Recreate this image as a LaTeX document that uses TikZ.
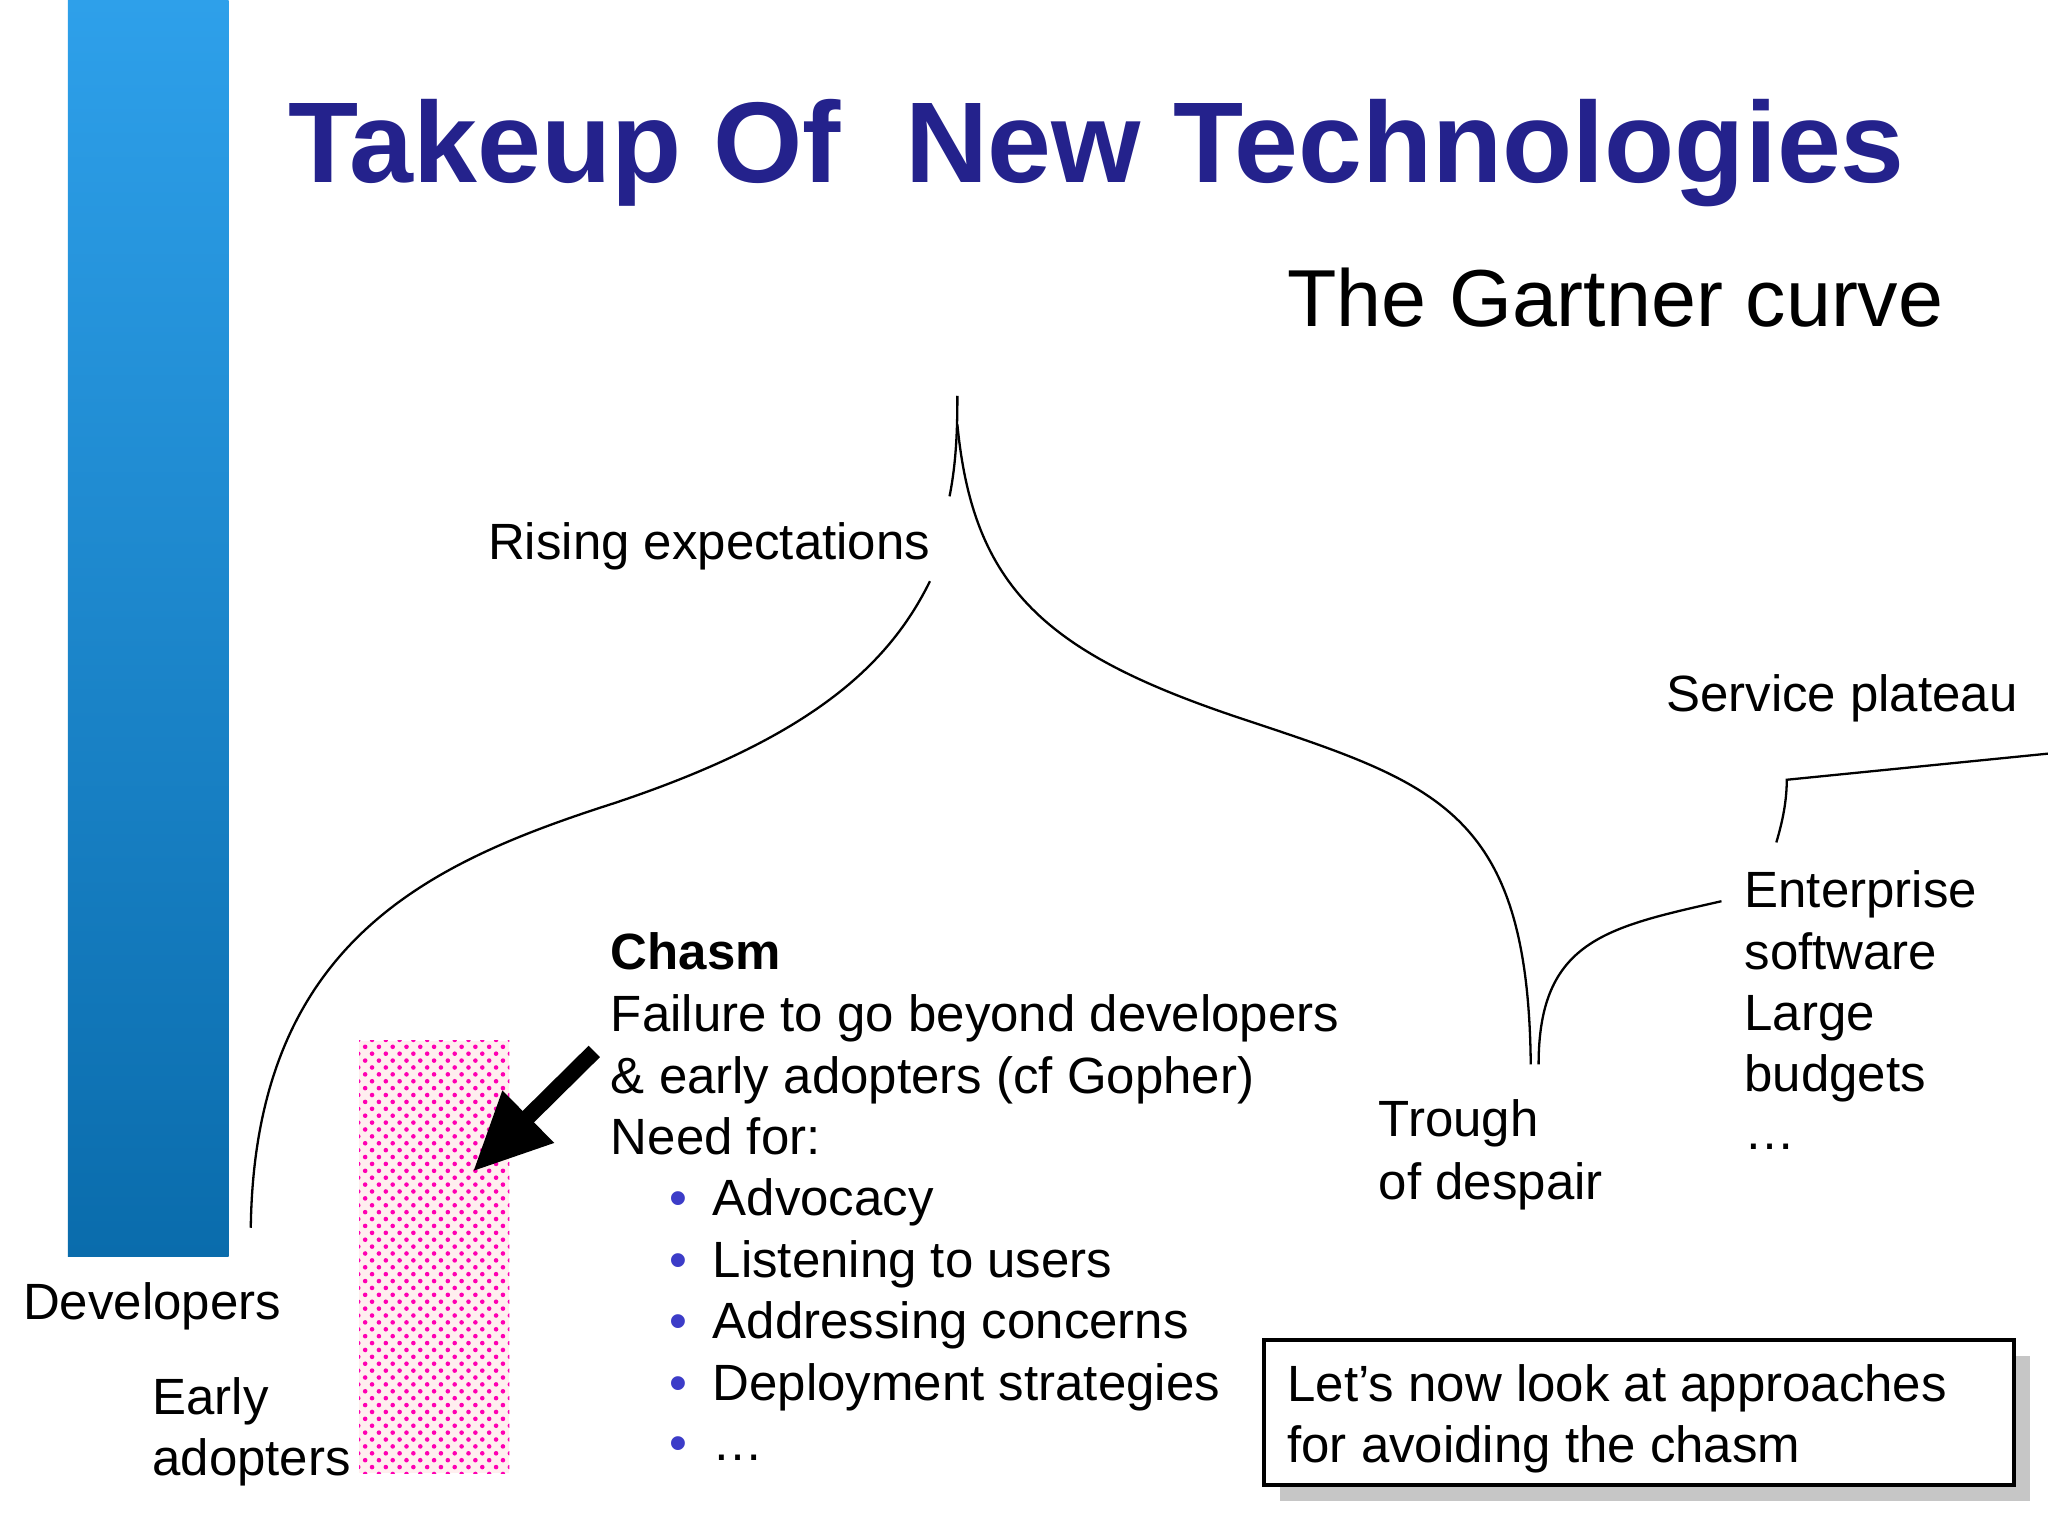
\documentclass[tikz,border=0pt]{standalone}
\usepackage{fontspec}
\setmainfont{Liberation Sans}
\usetikzlibrary{patterns,arrows.meta}
\definecolor{titleblue}{RGB}{36,34,140}
\definecolor{bartop}{RGB}{46,160,234}
\definecolor{barbot}{RGB}{10,108,172}
\definecolor{bulletblue}{RGB}{60,60,200}
\begin{document}
\begin{tikzpicture}[x=0.01cm,y=-0.01cm,
  txt/.style={anchor=base west,inner sep=0pt,font=\fontsize{11.1}{13.4}\selectfont},
  bul/.style={anchor=base west,inner sep=0pt,font=\fontsize{11.1}{13.4}\selectfont,text=bulletblue},
  crv/.style={line width=0.5pt}]
\useasboundingbox (0,0) rectangle (1568,1176);
\fill[white] (0,0) rectangle (1568,1176);
\shade[top color=bartop,bottom color=barbot] (52,0) rectangle (175,962);
\node[anchor=base west,inner sep=0pt,text=titleblue,font=\fontsize{25}{30}\selectfont\bfseries] (title) at (220,140) {Takeup Of\ \ New Technologies};
\node[anchor=base west,inner sep=0pt,font=\fontsize{17.6}{21}\selectfont] (gart) at (985,250) {The Gartner curve};
% curve
\draw[crv] (192,940) .. controls (195,720) and (330,660) .. (470,615) .. controls (620,565) and (680,510) .. (712,445);
\draw[crv] (727,380) .. controls (732,355) and (733,330) .. (733,303);
\draw[crv] (733,325) .. controls (745,450) and (800,500) .. (950,550) .. controls (1100,600) and (1170,620) .. (1172,815);
\draw[crv] (1178,815) .. controls (1178,720) and (1230,710) .. (1318,690);
\draw[crv] (1360,645) .. controls (1366,625) and (1368,610) .. (1368,597) -- (1568,577);
% labels
\node[txt] (rise) at (373,428) {Rising expectations};
\node[txt] (serv) at (1275,545) {Service plateau};
\node[txt] (ent1) at (1335,695) {Enterprise};
\node[txt] (ent2) at (1335,742) {software};
\node[txt] (ent3) at (1335,789) {Large};
\node[txt] (ent4) at (1335,836) {budgets};
\node[txt] (ent5) at (1335,880) {\dots};
\node[txt] (tr1) at (1055,870) {Trough};
\node[txt] (tr2) at (1055,918) {of despair};
\node[txt] (dev) at (17,1010) {Developers};
\node[txt] (ea1) at (116,1083) {Early};
\node[txt] (ea2) at (116,1130) {adopters};
% chasm
\fill[pink!25] (275,797) rectangle (390,1128);
\fill[pattern=crosshatch dots,pattern color=magenta!70!red] (275,797) rectangle (390,1128);
\coordinate (a1) at (455,805);
\coordinate (a2) at (362,897);
\draw[line width=3.5pt,-{Triangle[length=17pt,width=15pt]}] (a1) -- (a2);
\node[txt,font=\fontsize{11.1}{13.4}\selectfont\bfseries] (ch) at (467,742) {Chasm};
\node[txt] (c1) at (467,790) {Failure to go beyond developers};
\node[txt] (c2) at (467,837) {\& early adopters (cf Gopher)};
\node[txt] (c3) at (467,884) {Need for:};
\foreach \y/\t [count=\i] in {931/Advocacy,978/Listening to users,1025/Addressing concerns,1072/Deployment strategies,1118/\dots}{
  \node[bul] (b\i) at (512,\y) {\textbullet};
  \node[txt] (l\i) at (545,\y) {\t};
}
% box
\fill[gray!45] (980,1038) rectangle (1554,1149);
\draw[fill=white,line width=0.8pt] (968,1026) rectangle (1542,1137);
\node[txt] (bx1) at (985,1073) {Let’s now look at approaches};
\node[txt] (bx2) at (985,1120) {for avoiding the chasm};
\end{tikzpicture}
\end{document}
